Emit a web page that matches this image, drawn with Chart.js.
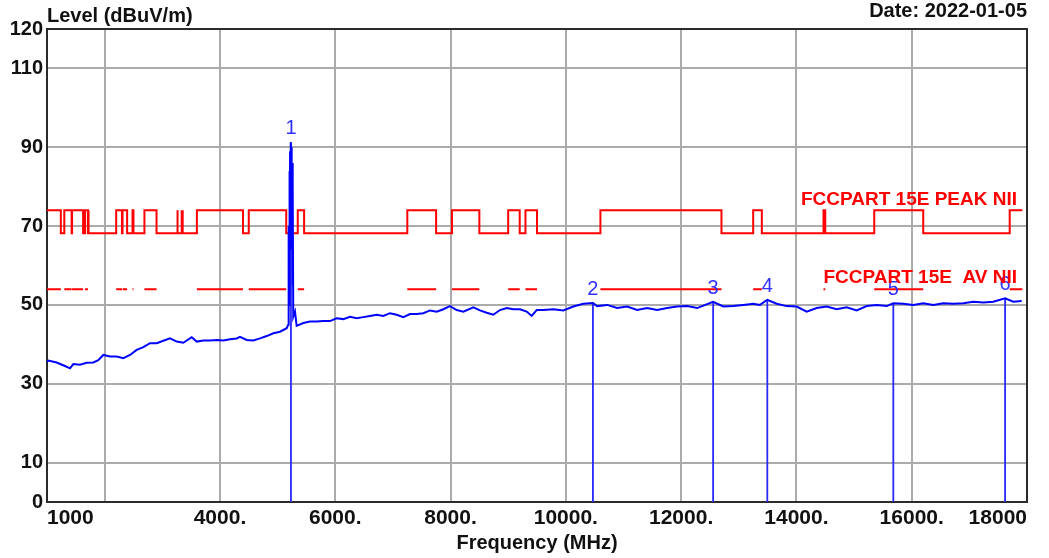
<!DOCTYPE html>
<html>
<head>
<meta charset="utf-8">
<title>Level (dBuV/m)</title>
<script src="https://cdn.jsdelivr.net/npm/chart.js@4.4.1/dist/chart.umd.min.js"></script>
<style>
  html, body { margin: 0; padding: 0; background: #fff; }
  #wrap { width: 1049px; height: 558px; }
</style>
</head>
<body>
<div id="wrap"><canvas id="chart" width="1049" height="558"></canvas></div>
<script>
/* Spectrum scan 1-18 GHz with FCC Part 15E limit lines */

const X_TICKS = [1000, 2000, 4000, 6000, 8000, 10000, 12000, 14000, 16000, 18000];
const Y_TICKS = [0, 10, 30, 50, 70, 90, 110, 120];

const traceFreq = [
  1000, 1023, 1168, 1312, 1399, 1457, 1572, 1688, 1804, 1890,
  1977, 2093, 2209, 2324, 2440, 2556, 2671, 2787, 2903, 3018,
  3134, 3250, 3365, 3510, 3597, 3712, 3828, 3944, 4059, 4175,
  4291, 4348, 4464, 4579, 4695, 4811, 4926, 5042, 5158, 5185,
  5192, 5198, 5205, 5211, 5217, 5223, 5229, 5232, 5235, 5241,
  5247, 5253, 5259, 5265, 5272, 5302, 5331, 5446, 5562, 5678,
  5793, 5909, 6025, 6140, 6256, 6372, 6487, 6603, 6719, 6834,
  6950, 7066, 7181, 7297, 7413, 7528, 7644, 7760, 7875, 7991,
  8107, 8222, 8395, 8511, 8627, 8742, 8858, 8974, 9089, 9205,
  9321, 9408, 9495, 9609, 9783, 9956, 10130, 10303, 10470, 10543,
  10717, 10890, 11064, 11237, 11411, 11584, 11757, 11931, 12104, 12278,
  12555, 12732, 12905, 13079, 13252, 13368, 13495, 13658, 13831, 14005,
  14178, 14352, 14525, 14699, 14872, 15046, 15219, 15393, 15566, 15681,
  15854, 16028, 16201, 16375, 16548, 16721, 16895, 17068, 17242, 17415,
  17620, 17762, 17908
];
const traceLevel = [
  35.6, 35.9, 35.4, 34.5, 33.9, 35.0, 34.8, 35.3, 35.4, 36.0,
  37.3, 36.9, 36.9, 36.5, 37.3, 38.6, 39.3, 40.3, 40.3, 40.9,
  41.5, 40.7, 40.4, 41.8, 40.7, 41.0, 41.0, 41.1, 41.0, 41.3,
  41.5, 41.9, 41.1, 41.0, 41.5, 42.1, 42.8, 43.2, 44.1, 45.0,
  70.0, 50.0, 84.0, 62.0, 89.0, 68.0, 91.3, 80.0, 74.0, 90.0,
  64.0, 86.0, 55.0, 80.0, 47.0, 48.3, 44.7, 45.4, 45.8, 45.8,
  45.9, 45.9, 46.6, 46.4, 47.0, 46.6, 46.9, 47.2, 47.5, 47.2,
  47.9, 47.5, 46.9, 47.7, 47.7, 47.9, 48.6, 48.3, 48.9, 49.7,
  48.7, 48.3, 49.4, 48.6, 48.0, 47.5, 48.7, 49.2, 48.9, 48.9,
  48.3, 47.2, 48.7, 48.7, 48.9, 48.6, 49.6, 50.3, 50.5, 49.7,
  50.0, 49.2, 49.6, 48.7, 49.2, 48.7, 49.2, 49.6, 49.7, 49.2,
  50.8, 49.6, 49.7, 50.0, 50.3, 50.0, 51.3, 50.3, 49.7, 49.6,
  48.3, 49.2, 49.6, 48.9, 49.4, 48.6, 49.7, 50.0, 49.7, 50.4,
  50.3, 50.0, 50.4, 50.0, 50.4, 50.3, 50.4, 50.8, 50.6, 50.8,
  51.7, 50.8, 51.0
];

// markers
const markerFreq  = [5232, 10470, 12555, 13495, 15681, 17620];
const markerLevel = [91.3, 50.5, 50.8, 51.3, 50.4, 51.7];
const markerName  = ["1", "2", "3", "4", "5", "6"];

// FCC 15.205 restricted bands (MHz) -> 74 peak / 54 AV, else 68.2
const restrictedBands = [
  [960, 1240], [1300, 1427], [1435, 1626.5], [1645.5, 1646.5], [1660, 1710],
  [1718.8, 1722.2], [2200, 2300], [2310, 2390], [2483.5, 2500], [2690, 2900],
  [3260, 3267], [3332, 3339], [3345.8, 3358], [3600, 4400], [4500, 5150],
  [5350, 5460], [7250, 7750], [8025, 8500], [9000, 9200], [9300, 9500],
  [10600, 12700], [13250, 13400], [14470, 14500], [15350, 16200], [17700, 21400]
];
const PEAK_HIGH = 74;
const PEAK_LOW = 68.2;
const AV_LIMIT = 54;
const LIMIT_START = 1000;
const LIMIT_END = 17920;

const FONT = "'Liberation Sans', Arial, sans-serif";

function buildPeakLine() {
  const pts = [];
  let cursor = LIMIT_START;
  restrictedBands.forEach(([a, b]) => {
    const s = Math.max(a, LIMIT_START), e = Math.min(b, LIMIT_END);
    if (e <= s) return;
    if (s > cursor) pts.push({ x: cursor, y: PEAK_LOW }, { x: s, y: PEAK_LOW });
    pts.push({ x: s, y: PEAK_HIGH }, { x: e, y: PEAK_HIGH });
    cursor = e;
  });
  if (cursor < LIMIT_END) pts.push({ x: cursor, y: PEAK_LOW }, { x: LIMIT_END, y: PEAK_LOW });
  return pts;
}

function buildAvLine() {
  const pts = [];
  restrictedBands.forEach(([a, b]) => {
    const s = Math.max(a, LIMIT_START), e = Math.min(b, LIMIT_END);
    if (e <= s) return;
    pts.push({ x: s, y: AV_LIMIT }, { x: e, y: AV_LIMIT }, { x: e, y: null });
  });
  return pts;
}

function buildMarkerLines() {
  const pts = [];
  markerFreq.forEach((f, i) => {
    pts.push({ x: f, y: 0 }, { x: f, y: markerLevel[i] }, { x: f, y: null });
  });
  return pts;
}

const frameAndText = {
  id: "frameAndText",
  beforeDatasetsDraw(chart) {
    const { ctx, chartArea: a } = chart;
    ctx.save();
    ctx.strokeStyle = "#2b2b2b";
    ctx.lineWidth = 2;
    ctx.strokeRect(a.left, a.top, a.right - a.left, a.bottom - a.top);
    ctx.restore();
  },
  afterDatasetsDraw(chart) {
    const { ctx, chartArea: a } = chart;
    const xs = chart.scales.x, ys = chart.scales.y;
    ctx.save();

    // marker numbers
    ctx.fillStyle = "#3030ff";
    ctx.font = "20px " + FONT;
    ctx.textAlign = "center";
    ctx.textBaseline = "alphabetic";
    markerFreq.forEach((f, i) => {
      ctx.fillText(markerName[i], xs.getPixelForValue(f), ys.getPixelForValue(markerLevel[i]) - 8);
    });

    // limit line captions
    ctx.fillStyle = "#ff0000";
    ctx.font = "bold 19px " + FONT;
    ctx.textAlign = "right";
    ctx.fillText("FCCPART 15E PEAK NII", a.right - 10, ys.getPixelForValue(PEAK_HIGH) - 5);
    ctx.fillText("FCCPART 15E  AV NII", a.right - 10, ys.getPixelForValue(AV_LIMIT) - 6);

    // header
    ctx.fillStyle = "#111";
    ctx.font = "bold 20px " + FONT;
    ctx.textAlign = "left";
    ctx.fillText("Level (dBuV/m)", a.left, 22);
    ctx.textAlign = "right";
    ctx.fillText("Date: 2022-01-05", a.right, 17);
    ctx.restore();
  }
};

new Chart(document.getElementById("chart").getContext("2d"), {
  type: "line",
  data: {
    datasets: [
      {
        label: "Trace",
        data: traceFreq.map((f, i) => ({ x: f, y: traceLevel[i] })),
        borderColor: "#0000ff",
        borderWidth: 2,
        pointRadius: 0,
        tension: 0,
      },
      {
        label: "Markers",
        data: buildMarkerLines(),
        borderColor: "#2a2aff",
        borderWidth: 1.8,
        pointRadius: 0,
        spanGaps: false,
      },
      {
        label: "FCCPART 15E PEAK NII",
        data: buildPeakLine(),
        borderColor: "#ff0000",
        borderWidth: 2,
        pointRadius: 0,
      },
      {
        label: "FCCPART 15E AV NII",
        data: buildAvLine(),
        borderColor: "#ff0000",
        borderWidth: 2,
        pointRadius: 0,
        spanGaps: false,
      },
    ],
  },
  options: {
    responsive: false,
    animation: false,
    devicePixelRatio: 1,
    layout: { padding: { top: 29, right: 22, left: 0, bottom: 0 } },
    plugins: {
      legend: { display: false },
      tooltip: { enabled: false },
    },
    scales: {
      x: {
        type: "linear",
        min: 1000,
        max: 18000,
        afterBuildTicks: s => { s.ticks = X_TICKS.map(v => ({ value: v })); },
        afterFit: s => { s.height = 56; },
        border: { display: false },
        grid: { color: "#ababab", lineWidth: 2, drawTicks: false },
        ticks: {
          align: "inner",
          autoSkip: false,
          maxRotation: 0,
          padding: 4,
          color: "#111",
          font: { family: FONT, size: 21, weight: "bold" },
          callback: v => (v === 2000 ? "" : (v === 1000 || v === 18000) ? String(v) : v + "."),
        },
        title: {
          display: true,
          text: "Frequency (MHz)",
          color: "#111",
          font: { family: FONT, size: 20, weight: "bold" },
          padding: { top: 0, bottom: 3 },
        },
      },
      y: {
        min: 0,
        max: 120,
        afterBuildTicks: s => { s.ticks = Y_TICKS.map(v => ({ value: v })); },
        afterFit: s => { s.width = 47; },
        border: { display: false },
        grid: { color: "#ababab", lineWidth: 2, drawTicks: false },
        ticks: {
          padding: 4,
          color: "#111",
          font: { family: FONT, size: 20, weight: "bold" },
          callback: v => String(v),
        },
      },
    },
  },
  plugins: [frameAndText],
});
</script>
</body>
</html>
